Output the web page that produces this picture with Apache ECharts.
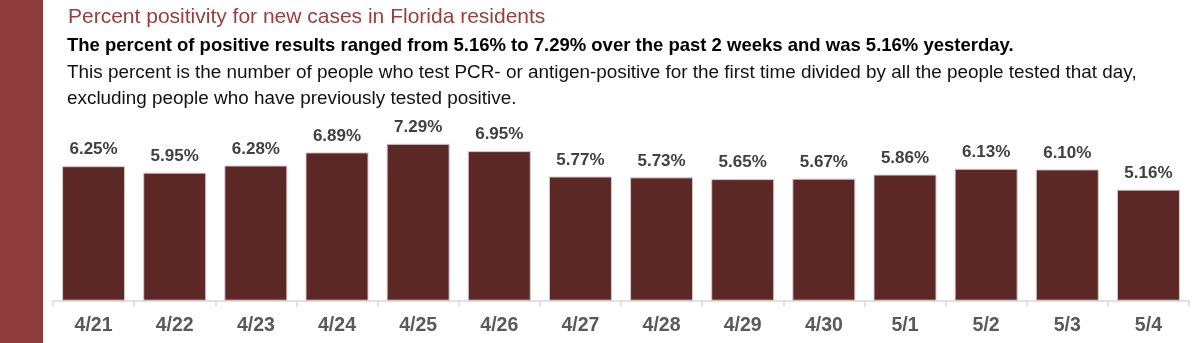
<!DOCTYPE html>
<html><head><meta charset="utf-8">
<script src="https://cdn.jsdelivr.net/npm/echarts@6/dist/echarts.min.js"></script>
<style>html,body{margin:0;padding:0;background:#fff}#c{width:1200px;height:343px}</style>
</head><body><div id="c"></div>
<script>
const categories = ['4/21','4/22','4/23','4/24','4/25','4/26','4/27','4/28','4/29','4/30','5/1','5/2','5/3','5/4'];
const positivity = [6.25,5.95,6.28,6.89,7.29,6.95,5.77,5.73,5.65,5.67,5.86,6.13,6.10,5.16];
const titleText = 'Percent positivity for new cases in Florida residents';
const subtitleText = 'The percent of positive results ranged from 5.16% to 7.29% over the past 2 weeks and was 5.16% yesterday.';
const descLines = ['This percent is the number of people who test PCR- or antigen-positive for the first time divided by all the people tested that day,','excluding people who have previously tested positive.'];

const chart = echarts.init(document.getElementById('c'));
const ff = '"Liberation Sans", Arial, sans-serif';
chart.setOption({
  animation: false,
  graphic: [
    {type:'rect', left:0, top:0, shape:{width:43, height:343}, style:{fill:'#8e3b3b'}},
    {type:'text', left:68, top:7, style:{text:titleText, fill:'#9b3d3a', font:'21px '+ff}},
    {type:'text', left:67, top:36, style:{text:subtitleText, fill:'#000', font:'bold 18.5px '+ff}},
    {type:'text', left:67, top:63, style:{text:descLines[0], fill:'#111', font:'18.9px '+ff}},
    {type:'text', left:67, top:89.5, style:{text:descLines[1], fill:'#111', font:'18.9px '+ff}}
  ],
  grid: {left:53, right:11, top:128.5, bottom:42.3},
  xAxis: {
    type:'category', data:categories,
    axisLine:{lineStyle:{color:'#d9d9d9', width:1.5}},
    axisTick:{show:true, length:6, lineStyle:{color:'#d9d9d9', width:1.5}},
    axisLabel:{color:'#595959', fontSize:19.5, fontWeight:'bold', fontFamily:ff, margin:15}
  },
  yAxis: {type:'value', min:0, max:8, show:false, splitLine:{show:false}},
  series: [{
    type:'bar', data:positivity, barWidth:63,
    itemStyle:{color:'#5c2826', borderColor:'#d8c8c8', borderWidth:1},
    label:{show:true, position:'top', distance:8, color:'#404040', fontSize:17, fontWeight:'bold', fontFamily:ff,
      formatter: p => p.value.toFixed(2) + '%'}
  }]
});
</script></body></html>
